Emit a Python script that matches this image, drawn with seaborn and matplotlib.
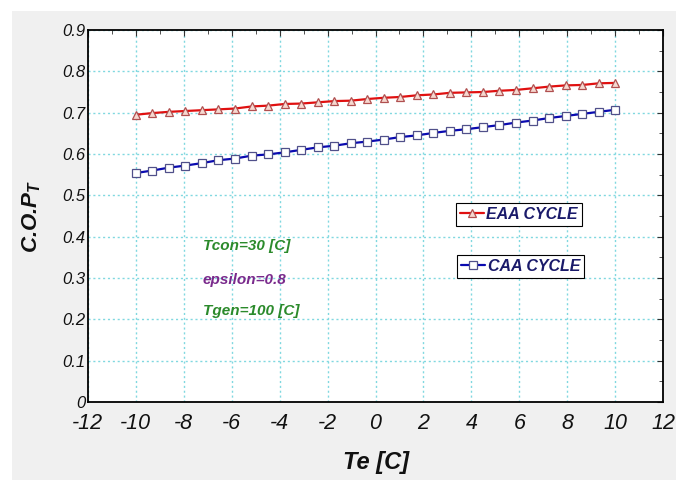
import matplotlib
matplotlib.use("Agg")
import matplotlib.pyplot as plt
import seaborn as sns
from matplotlib.patches import Rectangle
from matplotlib.ticker import MultipleLocator

# Evaporator temperature [C]
te = [-10.0, -9.310, -8.621, -7.931, -7.241, -6.552, -5.862, -5.172, -4.483, -3.793,
      -3.103, -2.414, -1.724, -1.034, -0.345, 0.345, 1.034, 1.724, 2.414, 3.103,
      3.793, 4.483, 5.172, 5.862, 6.552, 7.241, 7.931, 8.621, 9.310, 10.0]

cop_eaa = [0.695, 0.699, 0.702, 0.704, 0.706, 0.708, 0.710, 0.715, 0.717, 0.721,
           0.722, 0.725, 0.728, 0.729, 0.733, 0.736, 0.738, 0.742, 0.744, 0.748,
           0.749, 0.750, 0.753, 0.755, 0.759, 0.763, 0.766, 0.767, 0.771, 0.772]

cop_caa = [0.554, 0.560, 0.567, 0.572, 0.578, 0.585, 0.589, 0.596, 0.599, 0.604,
           0.610, 0.616, 0.620, 0.626, 0.630, 0.635, 0.641, 0.645, 0.651, 0.656,
           0.660, 0.665, 0.670, 0.676, 0.681, 0.687, 0.692, 0.697, 0.702, 0.707]

y_ticks = [0, 0.1, 0.2, 0.3, 0.4, 0.5, 0.6, 0.7, 0.8, 0.9]
y_tick_labels = ["0", "0.1", "0.2", "0.3", "0.4", "0.5", "0.6", "0.7", "0.8", "0.9"]

annotations = [("Tcon=30 [C]", 0.377, "#2b8a2b"),
               ("epsilon=0.8", 0.295, "#7a2a8c"),
               ("Tgen=100 [C]", 0.221, "#2b8a2b")]

sns.set_style("white")
plt.rcParams["font.family"] = ["Liberation Sans", "DejaVu Sans"]
plt.rcParams["font.style"] = "italic"
plt.rcParams["text.color"] = "#111111"
plt.rcParams["axes.labelcolor"] = "#111111"
plt.rcParams["axes.unicode_minus"] = False
plt.rcParams["mathtext.fontset"] = "custom"
plt.rcParams["mathtext.it"] = "Liberation Sans:italic:bold"
plt.rcParams["mathtext.bf"] = "Liberation Sans:italic:bold"
plt.rcParams["mathtext.rm"] = "Liberation Sans:italic:bold"

fig = plt.figure(figsize=(6.76, 4.8), dpi=100, facecolor="white")
fig.patches.append(Rectangle((12 / 676, 0), 1, 1 - 11 / 480, transform=fig.transFigure,
                             facecolor="#f0f0f0", edgecolor="none", zorder=-10))
ax = fig.add_axes([0.130, 0.1625, 0.851, 0.775])
ax.set_facecolor("white")

sns.lineplot(x=te, y=cop_eaa, ax=ax, color="#e01010", linewidth=1.6, marker="^",
             markersize=6, markerfacecolor="#f6d8d0", markeredgecolor="#b05050",
             markeredgewidth=0.9, label="EAA CYCLE")
sns.lineplot(x=te, y=cop_caa, ax=ax, color="#0a0ab0", linewidth=1.6, marker="s",
             markersize=6, markerfacecolor="white", markeredgecolor="#50508a",
             markeredgewidth=0.9, label="CAA CYCLE")

handles, labels = ax.get_legend_handles_labels()
ax.get_legend().remove()

leg_font = dict(size=11.5, weight="bold", style="italic")
leg1 = ax.legend([handles[0]], [labels[0]], loc="upper left", bbox_to_anchor=(0.640, 0.535),
                 prop=leg_font, fancybox=False, framealpha=1, edgecolor="black",
                 handlelength=1.5, handletextpad=0.15, borderpad=0.25, borderaxespad=0)
leg1.get_frame().set_linewidth(0.8)
for t in leg1.get_texts():
    t.set_color("#1a1a6a")
ax.add_artist(leg1)
leg2 = ax.legend([handles[1]], [labels[1]], loc="upper left", bbox_to_anchor=(0.642, 0.395),
                 prop=leg_font, fancybox=False, framealpha=1, edgecolor="black",
                 handlelength=1.5, handletextpad=0.15, borderpad=0.25, borderaxespad=0)
leg2.get_frame().set_linewidth(0.8)
for t in leg2.get_texts():
    t.set_color("#1a1a6a")

for txt, yv, col in annotations:
    ax.text(-7.2, yv, txt, color=col, fontsize=11, fontweight="bold", fontstyle="italic",
            va="center", ha="left")

ax.set_xlim(-12, 12)
ax.set_ylim(0, 0.9)
ax.xaxis.set_major_locator(MultipleLocator(2))
ax.xaxis.set_minor_locator(MultipleLocator(1))
ax.set_yticks(y_ticks)
ax.set_yticklabels(y_tick_labels)
ax.yaxis.set_minor_locator(MultipleLocator(0.05))

ax.grid(True, which="major", color="#80d8e0", linestyle=(0, (1.5, 2)), linewidth=1.0)
ax.tick_params(which="both", direction="in", top=True, right=True, color="#333333")
ax.tick_params(which="major", length=4)
ax.tick_params(which="minor", length=3)
ax.tick_params(axis="x", labelsize=15.5, pad=8, labelcolor="#111111")
ax.tick_params(axis="y", labelsize=12, pad=2, labelcolor="#111111")

for side in ["left", "bottom", "top", "right"]:
    ax.spines[side].set_visible(True)
    ax.spines[side].set_color("black")
    ax.spines[side].set_linewidth(1.3)

ax.set_xlabel("Te [C]", fontsize=17, fontweight="bold", fontstyle="italic", labelpad=12)
ax.set_ylabel("C.O.P$_T$", fontsize=16, fontweight="bold", fontstyle="italic", labelpad=14)

fig.savefig("out.png", dpi=100, facecolor=fig.get_facecolor())
